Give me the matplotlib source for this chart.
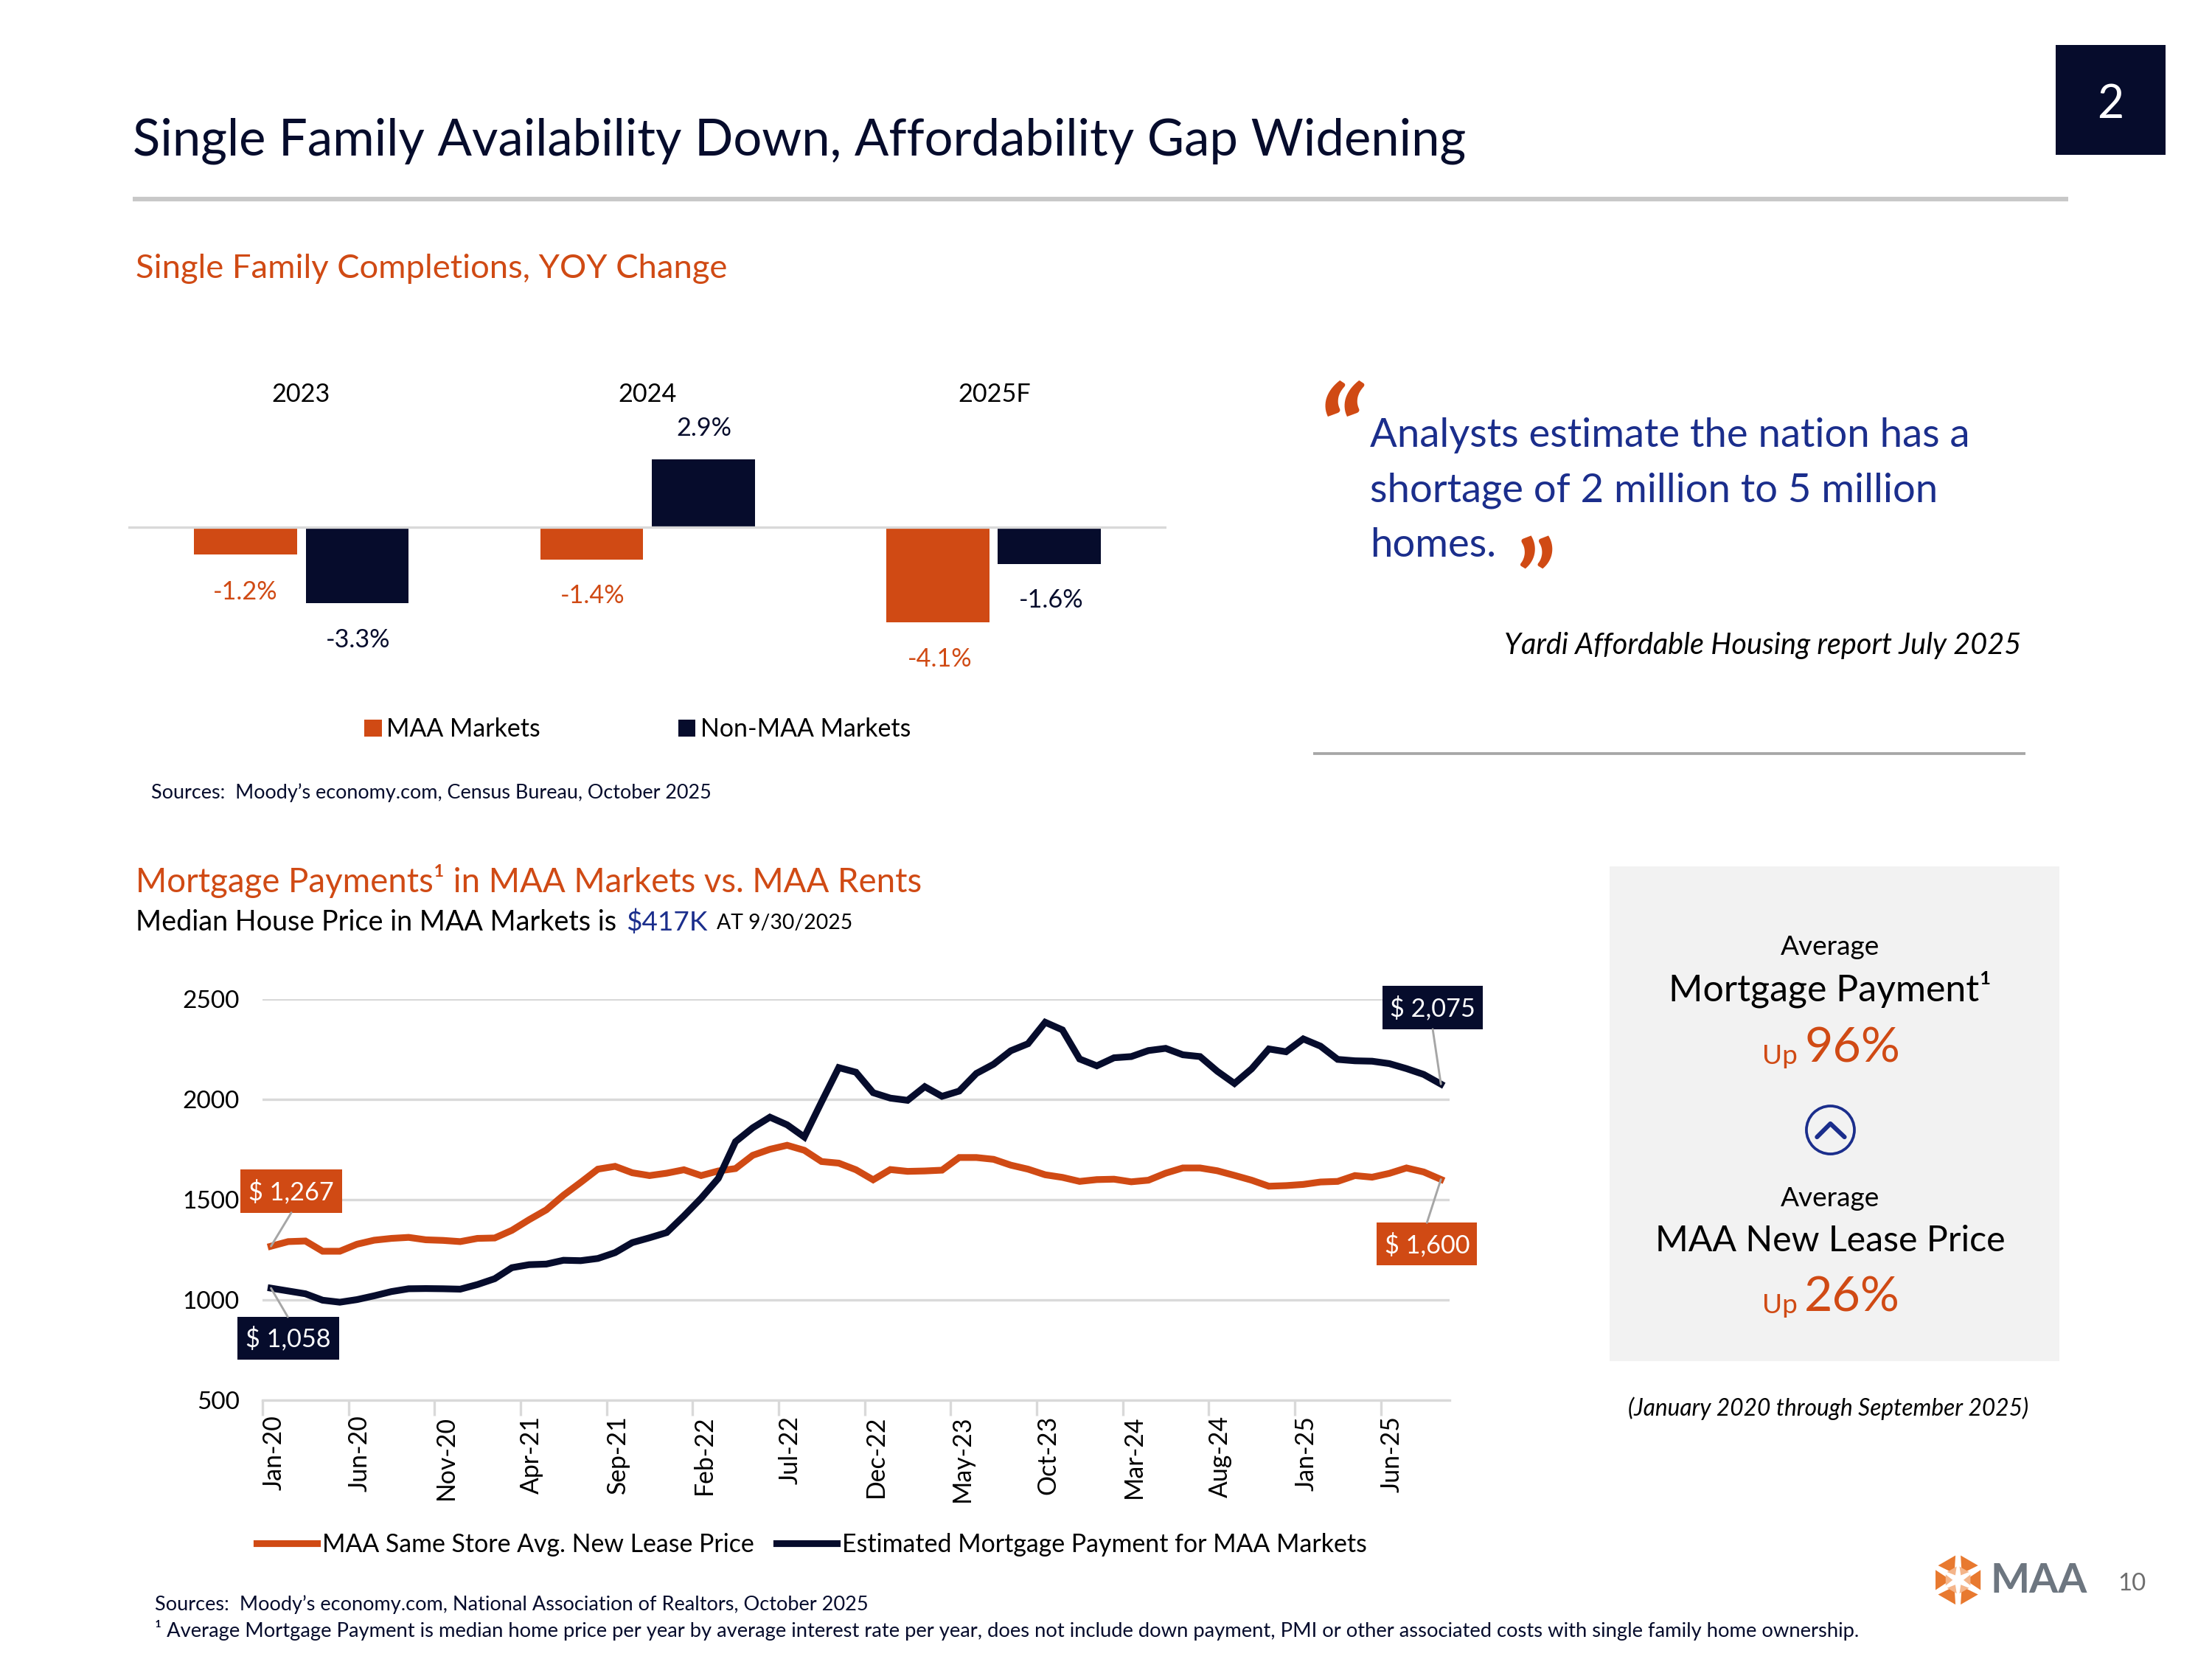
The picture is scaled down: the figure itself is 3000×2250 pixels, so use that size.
import matplotlib.pyplot as plt
import matplotlib as mb
from matplotlib.patches import Rectangle, Circle, Polygon
import numpy as np

mb.rcParams["font.family"] = ["Lato", "DejaVu Sans"]
mb.rcParams["text.parse_math"] = False

orange = "#D04A14"
navy = "#060C2C"
blue = "#1B2E8C"
grid = "#D9D9D9"

# bar chart data
barYears = ["2023", "2024", "2025F"]
maaMarkets = [-1.2, -1.4, -4.1]
nonMaaMarkets = [-3.3, 2.9, -1.6]

# line chart data, Jan-20 to Sep-25
leasePrice = [1267, 1290, 1293, 1242, 1242, 1277, 1297, 1306, 1311, 1299, 1296, 1290, 1306, 1308,
              1346, 1399, 1448, 1521, 1585, 1651, 1665, 1633, 1619, 1631, 1648, 1619, 1642, 1654,
              1720, 1750, 1770, 1745, 1689, 1681, 1648, 1598, 1649, 1640, 1642, 1646, 1709, 1709,
              1700, 1671, 1651, 1623, 1610, 1590, 1599, 1601, 1588, 1596, 1631, 1657, 1657, 1643,
              1620, 1596, 1566, 1569, 1575, 1587, 1590, 1619, 1611, 1630, 1657, 1637, 1600]
mortgagePayment = [1058, 1044, 1030, 998, 988, 1001, 1020, 1041, 1055, 1056, 1055, 1053, 1076, 1105,
                   1160, 1175, 1178, 1197, 1195, 1206, 1235, 1285, 1309, 1335, 1418, 1506, 1605, 1788,
                   1857, 1910, 1872, 1811, 1986, 2157, 2134, 2032, 2005, 1994, 2062, 2014, 2040, 2128,
                   2174, 2241, 2276, 2383, 2345, 2200, 2166, 2206, 2212, 2242, 2253, 2221, 2212, 2139,
                   2078, 2151, 2250, 2236, 2300, 2264, 2198, 2191, 2189, 2177, 2152, 2123, 2075]
monthLabels = ["Jan-20", "Jun-20", "Nov-20", "Apr-21", "Sep-21", "Feb-22", "Jul-22", "Dec-22",
               "May-23", "Oct-23", "Mar-24", "Aug-24", "Jan-25", "Jun-25"]
yTicks = [500, 1000, 1500, 2000, 2500]

W, H = 1568.0, 1176.0  # layout units, the slide as seen at 1568 wide

fig = plt.figure(figsize=(10, 7.5), dpi=300)


def slideAxes(left, top, right, bottom):
    return fig.add_axes([left / W, 1 - bottom / H, (right - left) / W, (bottom - top) / H])


# overlay for all the slide furniture
slide = fig.add_axes([0, 0, 1, 1], zorder=5)
slide.set_xlim(0, W)
slide.set_ylim(H, 0)
slide.axis("off")
slide.patch.set_alpha(0)


def put(x, y, s, size, color="black", ha="center", **kw):
    return slide.text(x, y + 1.5, s, fontsize=size, color=color, ha=ha, va="center", **kw)


def box(x0, y0, x1, y1, color):
    slide.add_patch(Rectangle((x0, y0), x1 - x0, y1 - y0, color=color, lw=0))


# header
put(94, 98.5, "Single Family Availability Down, Affordability Gap Widening", 16.5, navy, "left")
box(1457, 32, 1535, 110, navy)
put(1496, 72.5, "2", 15, "white")
slide.plot([94, 1466], [141, 141], color="#C8C8C8", lw=1.5, solid_capstyle="butt")

# top chart
put(96, 189, "Single Family Completions, YOY Change", 10.9, orange, "left")
barAx = slideAxes(91, 250, 827, 480)
barAx.patch.set_alpha(0)
x = np.arange(len(barYears))
barAx.bar(x - 0.161, maaMarkets, 0.2976, color=orange, label="MAA Markets")
barAx.bar(x + 0.161, nonMaaMarkets, 0.2976, color=navy, label="Non-MAA Markets")
barAx.set_xlim(-0.5, 2.5)
barAx.set_ylim((373.5 - 480) / 16.45, (373.5 - 250) / 16.45)
barAx.axis("off")
barAx.add_line(plt.Line2D([-0.5, 2.5], [0, 0], color=grid, lw=0.8))
for xp, s in zip([213, 459, 705], barYears):
    put(xp, 278, s, 8.2)
labelSpots = [(174, 418), (420, 421), (666, 466)]
for (xp, yp), v in zip(labelSpots, maaMarkets):
    put(xp, yp, f"{v:.1f}%", 8.2, orange)
labelSpots = [(254, 452), (499, 302), (745, 424)]
for (xp, yp), v in zip(labelSpots, nonMaaMarkets):
    put(xp, yp, f"{v:.1f}%", 8.2, navy)
barLegend = barAx.legend(loc="center", bbox_to_anchor=(452, 517), bbox_transform=slide.transData,
                         ncol=2, frameon=False, fontsize=8.15, handlelength=0.68, handleheight=0.68,
                         handletextpad=0.2, columnspacing=5.5, borderpad=0)
put(107, 560.5, "Sources:  Moody’s economy.com, Census Bureau, October 2025", 6.48, navy, "left")

# quote block
put(933, 312, "“", 41, orange, "left", fontweight="bold", fontstyle="italic")
put(971, 307, "Analysts estimate the nation has a", 13.05, blue, "left")
put(971, 346, "shortage of 2 million to 5 million", 13.05, blue, "left")
put(971, 385, "homes.", 13.05, blue, "left")
put(1074, 414, "”", 34, orange, "left", fontweight="bold")
put(1433, 456, "Yardi Affordable Housing report July 2025", 9.5, "black", "right", fontstyle="italic")
slide.plot([931, 1436], [534, 534], color="#A6A6A6", lw=0.9, solid_capstyle="butt")

# lower chart headings
put(96, 623, "Mortgage Payments¹ in MAA Markets vs. MAA Rents", 10.95, orange, "left")
put(96, 652.5, "Median House Price in MAA Markets is", 9.05, "black", "left")
put(444, 652, "$417K", 8.9, blue, "left")
put(508, 653, "AT 9/30/2025", 6.8, "black", "left")

lineAx = slideAxes(186, 708, 1027.5, 992.5)
lineAx.patch.set_alpha(0)
months = np.arange(len(leasePrice)) + 0.5
lineAx.plot(months, leasePrice, color=orange, lw=2.2, solid_joinstyle="miter",
            label="MAA Same Store Avg. New Lease Price")
lineAx.plot(months, mortgagePayment, color=navy, lw=2.2, solid_joinstyle="miter",
            label="Estimated Mortgage Payment for MAA Markets")
lineAx.set_xlim(0, len(leasePrice))
lineAx.set_ylim(500, 2500)
lineAx.set_yticks(yTicks)
lineAx.yaxis.grid(True, color=grid, lw=0.8)
lineAx.set_axisbelow(True)
lineAx.set_xticks(np.arange(0, len(leasePrice), 5))
lineAx.set_xticklabels([])
lineAx.set_xticks(np.arange(0, len(leasePrice), 5) + 0.66, labels=monthLabels, minor=True, rotation=90)
lineAx.tick_params(axis="x", which="major", length=5, width=0.8, color=grid)
lineAx.tick_params(axis="x", which="minor", length=0, pad=5, labelsize=8.1)
lineAx.tick_params(axis="y", length=0, pad=7.5, labelsize=8.0)
for side in ["top", "left", "right"]:
    lineAx.spines[side].set_visible(False)
lineAx.spines["bottom"].set_color(grid)
lineAx.spines["bottom"].set_linewidth(0.8)
lineAx.legend(loc="center", bbox_to_anchor=(575.5, 1095), bbox_transform=slide.transData, ncol=2,
              frameon=False, fontsize=8.15, handlelength=2.42, handletextpad=0.2, columnspacing=0.9,
              borderpad=0)

# callouts
callouts = [
    (170.4, 829, 242.5, 859.6, orange, "$ 1,267", 0, leasePrice[0], 206.5, 859.6),
    (168.3, 933.5, 240.5, 963.7, navy, "$ 1,058", 0, mortgagePayment[0], 204, 933.5),
    (980, 699, 1051, 729.6, navy, "$ 2,075", 68, mortgagePayment[-1], 1015.6, 729.6),
    (976, 866.7, 1047, 897, orange, "$ 1,600", 68, leasePrice[-1], 1011.5, 866.7),
]
for x0, y0, x1, y1, c, s, i, v, lx, ly in callouts:
    slide.annotate("", xy=(months[i], v), xycoords=lineAx.transData, xytext=(lx, ly),
                   textcoords=slide.transData,
                   arrowprops=dict(arrowstyle="-", color="#A6A6A6", lw=0.7, shrinkA=0, shrinkB=0))
    box(x0, y0, x1, y1, c)
    put((x0 + x1) / 2, (y0 + y1) / 2 - 1, s, 8.2, "white")

# right panel
box(1141, 614, 1460, 965, "#F2F2F2")
put(1297.5, 670, "Average", 8.9)
put(1297.5, 700, "Mortgage Payment¹", 12)
put(1274, 747, "Up", 8.9, orange, "right")
put(1279, 741.5, "96%", 15.9, orange, "left")
slide.add_patch(Circle((1297.5, 801), 17, fill=False, ec=blue, lw=0.9))
slide.plot([1288, 1297.5, 1307.5], [806, 796.5, 806], color=blue, lw=1.45, solid_capstyle="round")
put(1297.5, 848, "Average", 8.9)
put(1297.5, 878, "MAA New Lease Price", 11.6)
put(1274, 924, "Up", 8.9, orange, "right")
put(1279, 918.5, "26%", 15.9, orange, "left")
put(1296, 997, "(January 2020 through September 2025)", 7.6, "black", fontstyle="italic")

# footer
put(110, 1136, "Sources:  Moody’s economy.com, National Association of Realtors, October 2025", 6.5, navy, "left")
put(110, 1154, "¹ Average Mortgage Payment is median home price per year by average interest rate per year, "
    "does not include down payment, PMI or other associated costs with single family home ownership.",
    6.58, navy, "left")

# logo, six petals around a white centre
logoX, logoY, logoR = 1388.0, 1120.0, 17.5
for k in range(6):
    mid = np.deg2rad(k * 60)
    for outer, inner, shade in [(1.0, 0.3, "#E8792F"), (0.55, 0.22, "#F4B58A")]:
        spread = np.deg2rad(24)
        pts = [(logoX + inner * logoR * np.cos(mid), logoY + inner * logoR * np.sin(mid)),
               (logoX + outer * logoR * np.cos(mid - spread), logoY + outer * logoR * np.sin(mid - spread)),
               (logoX + outer * logoR * np.cos(mid + spread), logoY + outer * logoR * np.sin(mid + spread))]
        slide.add_patch(Polygon(pts, color=shade, lw=0))
put(1411, 1119, "MAA", 13.5, "#6D7680", "left", fontweight="bold")
put(1511, 1121, "10", 7.9, "#6E6E6E")

fig.savefig("out.png", dpi=300)
